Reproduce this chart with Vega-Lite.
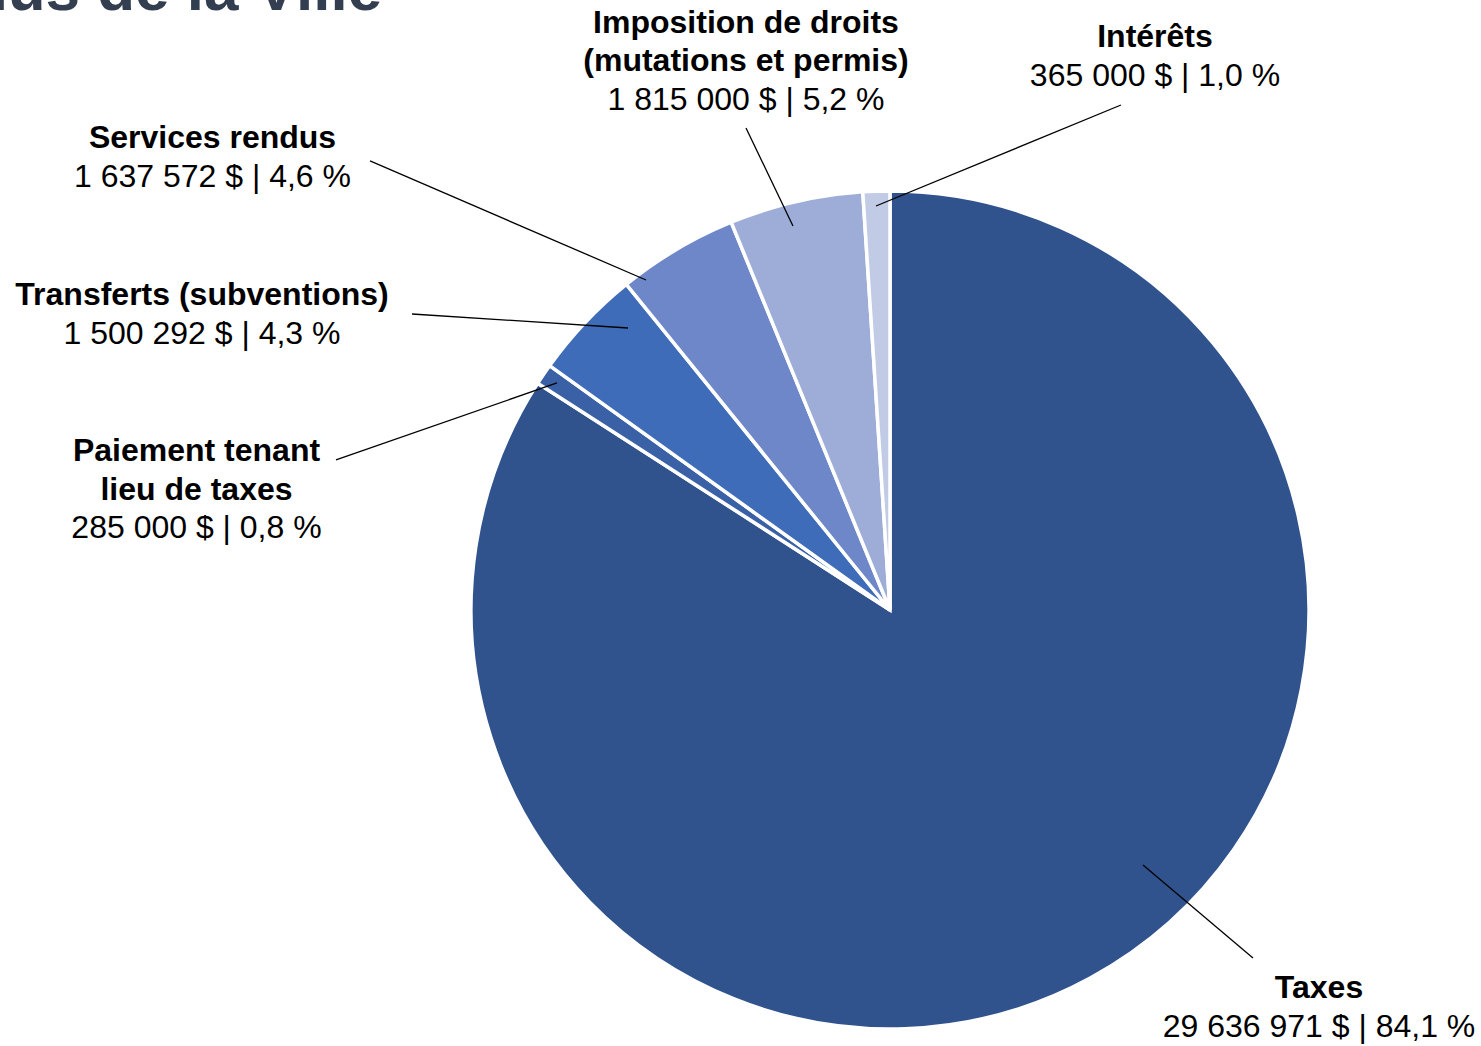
{
  "$schema": "https://vega.github.io/schema/vega-lite/v6.json",
  "width": 1481,
  "height": 1046,
  "autosize": {"type": "none"},
  "padding": 0,
  "background": "white",
  "config": {"view": {"stroke": null}, "font": "Liberation Sans"},
  "datasets": {
    "revenus": [
      {"categorie": "Taxes", "montant": 29636971, "ordre": 1},
      {"categorie": "Paiement tenant lieu de taxes", "montant": 285000, "ordre": 2},
      {"categorie": "Transferts (subventions)", "montant": 1500292, "ordre": 3},
      {"categorie": "Services rendus", "montant": 1637572, "ordre": 4},
      {"categorie": "Imposition de droits (mutations et permis)", "montant": 1815000, "ordre": 5},
      {"categorie": "Intérêts", "montant": 365000, "ordre": 6}
    ],
    "etiquettes": [
      {"categorie": "Taxes", "nom": "Taxes", "valeur": "29 636 971 $ | 84,1 %", "lx": 1.0263, "ly": -1.0215, "ax": 0.6053, "ay": -0.61, "bx": 0.8684, "by": -0.8325},
      {"categorie": "Paiement tenant lieu de taxes", "nom": "Paiement tenant\nlieu de taxes", "valeur": "285 000 $ | 0,8 %", "lx": -1.6591, "ly": 0.1722, "ax": -0.7967, "ay": 0.5431, "bx": -1.3254, "by": 0.3589},
      {"categorie": "Transferts (subventions)", "nom": "Transferts (subventions)", "valeur": "1 500 292 $ | 4,3 %", "lx": -1.6459, "ly": 0.6364, "ax": -0.6268, "ay": 0.6746, "bx": -1.1435, "by": 0.7081},
      {"categorie": "Services rendus", "nom": "Services rendus", "valeur": "1 637 572 $ | 4,6 %", "lx": -1.6208, "ly": 1.012, "ax": -0.5837, "ay": 0.7895, "bx": -1.244, "by": 1.0742},
      {"categorie": "Imposition de droits (mutations et permis)", "nom": "Imposition de droits\n(mutations et permis)", "valeur": "1 815 000 $ | 5,2 %", "lx": -0.3445, "ly": 1.1962, "ax": -0.2321, "ay": 0.9187, "bx": -0.3445, "by": 1.1531},
      {"categorie": "Intérêts", "nom": "Intérêts", "valeur": "365 000 $ | 1,0 %", "lx": 0.634, "ly": 1.2536, "ax": -0.0335, "ay": 0.9665, "bx": 0.5526, "by": 1.2081}
    ]
  },
  "layer": [
    {
      "data": {"name": "revenus"},
      "mark": {"type": "arc", "outerRadius": 419, "stroke": "white", "strokeWidth": 3.5},
      "encoding": {
        "x": {"datum": 0, "type": "quantitative", "scale": {"type": "linear", "domain": [-2.1292, 1.4139], "nice": false, "zero": false}, "axis": null},
        "y": {"datum": 0, "type": "quantitative", "scale": {"type": "linear", "domain": [-1.0431, 1.4593], "nice": false, "zero": false}, "axis": null},
        "theta": {"field": "montant", "type": "quantitative", "stack": true},
        "order": {"field": "ordre", "type": "quantitative"},
        "color": {
          "field": "categorie",
          "type": "nominal",
          "scale": {
            "domain": ["Taxes", "Paiement tenant lieu de taxes", "Transferts (subventions)", "Services rendus", "Imposition de droits (mutations et permis)", "Intérêts"],
            "range": ["#30538E", "#3A60A6", "#3F6CB9", "#6E87C8", "#9DADD8", "#C2CBE6"]
          },
          "legend": null
        }
      }
    },
    {
      "data": {"name": "etiquettes"},
      "mark": {"type": "rule", "color": "black", "strokeWidth": 1.3},
      "encoding": {
        "x": {"field": "ax", "type": "quantitative"},
        "y": {"field": "ay", "type": "quantitative"},
        "x2": {"field": "bx"},
        "y2": {"field": "by"}
      }
    },
    {
      "data": {"name": "etiquettes"},
      "transform": [{"filter": "indexof(datum.nom, '\\n') < 0"}],
      "mark": {"type": "text", "align": "center", "baseline": "alphabetic", "dy": -38.5, "fontSize": 32, "fontWeight": "bold", "color": "black"},
      "encoding": {
        "x": {"field": "lx", "type": "quantitative"},
        "y": {"field": "ly", "type": "quantitative"},
        "text": {"field": "nom", "type": "nominal"}
      }
    },
    {
      "data": {"name": "etiquettes"},
      "transform": [{"filter": "indexof(datum.nom, '\\n') >= 0"}],
      "mark": {"type": "text", "align": "center", "baseline": "alphabetic", "dy": -77, "lineBreak": "\n", "lineHeight": 38.5, "fontSize": 32, "fontWeight": "bold", "color": "black"},
      "encoding": {
        "x": {"field": "lx", "type": "quantitative"},
        "y": {"field": "ly", "type": "quantitative"},
        "text": {"field": "nom", "type": "nominal"}
      }
    },
    {
      "data": {"name": "etiquettes"},
      "mark": {"type": "text", "align": "center", "baseline": "alphabetic", "fontSize": 32, "color": "black"},
      "encoding": {
        "x": {"field": "lx", "type": "quantitative"},
        "y": {"field": "ly", "type": "quantitative"},
        "text": {"field": "valeur", "type": "nominal"}
      }
    },
    {
      "data": {"values": [{"titre": "Revenus de la Ville"}]},
      "mark": {"type": "text", "align": "right", "baseline": "alphabetic", "fontSize": 62, "fontWeight": "bold", "color": "#333F50"},
      "encoding": {
        "x": {"datum": -1.215, "type": "quantitative"},
        "y": {"datum": 1.4354, "type": "quantitative"},
        "text": {"field": "titre", "type": "nominal"}
      }
    }
  ]
}
